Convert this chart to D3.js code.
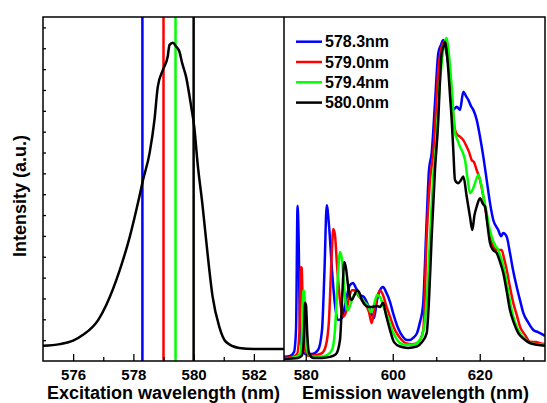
<!DOCTYPE html>
<html>
<head>
<meta charset="utf-8">
<script src="https://cdn.jsdelivr.net/npm/d3@7"></script>
<style>
  html, body { margin: 0; padding: 0; background: #fff; }
  svg { display: block; }
  text { font-family: "Liberation Sans", Arial, Helvetica, sans-serif; font-weight: bold; fill: #000; }
</style>
</head>
<body>
<svg id="chart" width="547" height="403"></svg>
<script>
// ---- Excitation spectrum (left panel) ----
const excWavelength = [575.0, 575.56, 576.0, 576.33, 576.83, 577.1, 577.55, 577.88, 578.2, 578.32, 578.54, 578.7, 578.81, 578.98, 579.14, 579.2, 579.31, 579.42, 579.53, 579.62, 579.75, 579.92, 580.02, 580.13, 580.3, 580.46, 580.63, 580.85, 581.07, 581.51, 582.0, 582.5, 583.0];
const excIntensity  = [0.044, 0.049, 0.059, 0.076, 0.119, 0.163, 0.265, 0.361, 0.478, 0.526, 0.605, 0.701, 0.797, 0.846, 0.885, 0.919, 0.925, 0.914, 0.899, 0.866, 0.826, 0.739, 0.681, 0.576, 0.449, 0.314, 0.187, 0.100, 0.056, 0.038, 0.035, 0.035, 0.035];

// Excitation wavelengths used for the emission spectra
const laserWavelengths = [578.3, 579.0, 579.4, 580.0];
const seriesLabels = ["578.3nm", "579.0nm", "579.4nm", "580.0nm"];
const seriesColors = ["#0000ff", "#ff0000", "#00ff00", "#000000"];

// ---- Emission spectra (right panel) ----
const emWl578_3 = [575.0, 576.38, 577.3, 577.76, 578.12, 578.33, 578.68, 579.14, 580.06, 581.44, 582.82, 583.74, 584.31, 584.82, 585.34, 586.03, 586.72, 587.48, 588.33, 589.25, 590.17, 590.86, 591.55, 592.47, 593.39, 594.31, 595.0, 595.69, 596.38, 597.07, 597.76, 598.45, 599.37, 600.06, 601.21, 602.36, 603.28, 603.97, 604.66, 605.57, 606.26, 606.95, 607.8, 608.33, 608.95, 609.71, 610.47, 611.09, 611.62, 612.24, 612.7, 613.16, 613.92, 614.7, 615.46, 616.22, 616.84, 617.37, 617.99, 618.52, 619.3, 620.06, 620.82, 621.6, 622.36, 623.11, 624.26, 624.89, 625.41, 626.2, 626.95, 627.64, 628.49, 629.25, 630.01, 631.09, 632.31, 633.39, 634.61, 635.0];
const emIn578_3 = [0.012, 0.015, 0.026, 0.09, 0.451, 0.38, 0.09, 0.032, 0.02, 0.02, 0.032, 0.09, 0.265, 0.453, 0.395, 0.265, 0.163, 0.119, 0.125, 0.177, 0.221, 0.227, 0.212, 0.192, 0.186, 0.163, 0.14, 0.125, 0.177, 0.206, 0.215, 0.201, 0.172, 0.14, 0.096, 0.07, 0.061, 0.061, 0.067, 0.081, 0.113, 0.16, 0.41, 0.555, 0.605, 0.75, 0.895, 0.919, 0.933, 0.904, 0.869, 0.817, 0.73, 0.739, 0.73, 0.783, 0.77, 0.759, 0.741, 0.73, 0.701, 0.652, 0.594, 0.526, 0.459, 0.41, 0.381, 0.363, 0.372, 0.361, 0.314, 0.265, 0.216, 0.177, 0.14, 0.113, 0.09, 0.084, 0.076, 0.073];

const emWl579_0 = [575.0, 576.84, 577.99, 578.56, 578.84, 579.07, 579.37, 579.83, 580.52, 582.13, 583.74, 584.66, 585.34, 585.92, 586.33, 586.72, 587.18, 587.87, 588.56, 589.25, 589.94, 590.63, 591.32, 592.01, 592.93, 593.85, 594.54, 595.16, 595.69, 596.38, 597.07, 597.76, 598.45, 599.37, 600.52, 601.67, 603.21, 604.43, 605.51, 606.26, 607.02, 607.8, 608.56, 609.32, 609.94, 610.47, 611.09, 611.62, 612.24, 612.82, 613.55, 614.31, 614.89, 615.46, 616.22, 617.0, 617.53, 618.15, 618.68, 619.3, 620.06, 620.82, 621.44, 621.97, 622.59, 623.11, 623.97, 625.05, 625.57, 626.2, 626.95, 627.71, 628.56, 629.25, 630.4, 631.55, 632.93, 633.85, 635.0];
const emIn579_0 = [0.009, 0.012, 0.02, 0.09, 0.273, 0.27, 0.119, 0.032, 0.015, 0.017, 0.023, 0.047, 0.119, 0.294, 0.384, 0.366, 0.279, 0.177, 0.129, 0.142, 0.183, 0.206, 0.206, 0.192, 0.177, 0.163, 0.142, 0.11, 0.142, 0.183, 0.206, 0.192, 0.163, 0.129, 0.09, 0.067, 0.051, 0.049, 0.052, 0.061, 0.09, 0.361, 0.526, 0.605, 0.73, 0.846, 0.904, 0.924, 0.927, 0.875, 0.768, 0.672, 0.657, 0.652, 0.642, 0.623, 0.608, 0.584, 0.578, 0.555, 0.526, 0.478, 0.43, 0.39, 0.358, 0.332, 0.323, 0.323, 0.299, 0.265, 0.215, 0.169, 0.131, 0.1, 0.076, 0.056, 0.055, 0.052, 0.049];

const emWl579_4 = [575.0, 577.53, 578.68, 579.14, 579.44, 579.67, 579.94, 580.4, 581.44, 583.28, 584.89, 586.03, 586.72, 587.41, 587.87, 588.33, 588.79, 589.25, 589.71, 590.4, 591.09, 591.78, 592.47, 593.39, 594.31, 595.0, 595.69, 596.38, 597.07, 597.99, 598.91, 599.83, 600.75, 601.67, 603.05, 604.66, 605.8, 606.72, 607.41, 608.1, 608.56, 609.25, 610.1, 610.63, 611.25, 611.78, 612.4, 612.93, 613.55, 614.31, 614.89, 615.46, 616.03, 616.61, 617.18, 617.76, 618.33, 618.91, 619.67, 620.45, 620.98, 621.6, 622.13, 622.75, 623.51, 624.26, 625.0, 625.8, 626.49, 627.34, 628.1, 629.25, 630.4, 631.55, 633.16, 635.0];
const emIn579_4 = [0.006, 0.012, 0.02, 0.076, 0.206, 0.201, 0.09, 0.026, 0.012, 0.012, 0.017, 0.032, 0.09, 0.25, 0.317, 0.294, 0.221, 0.163, 0.148, 0.169, 0.192, 0.198, 0.186, 0.172, 0.16, 0.142, 0.163, 0.192, 0.186, 0.154, 0.125, 0.09, 0.067, 0.052, 0.047, 0.047, 0.055, 0.073, 0.119, 0.235, 0.361, 0.526, 0.652, 0.773, 0.866, 0.919, 0.939, 0.89, 0.797, 0.663, 0.642, 0.623, 0.608, 0.584, 0.532, 0.488, 0.497, 0.517, 0.541, 0.507, 0.468, 0.43, 0.392, 0.361, 0.337, 0.323, 0.294, 0.256, 0.206, 0.148, 0.113, 0.081, 0.064, 0.052, 0.049, 0.047];

const emWl580_0 = [575.0, 578.22, 579.14, 579.6, 579.83, 580.06, 580.36, 580.75, 581.67, 583.74, 585.57, 586.95, 587.87, 588.45, 588.86, 589.25, 589.71, 590.17, 590.56, 591.09, 591.78, 592.24, 592.93, 593.62, 594.31, 595.23, 596.31, 597.07, 597.76, 598.45, 599.37, 600.29, 601.67, 603.51, 605.51, 606.72, 607.8, 608.33, 608.95, 609.71, 610.47, 610.86, 611.25, 611.67, 612.01, 612.36, 612.77, 613.16, 613.55, 613.92, 614.31, 615.07, 615.69, 616.22, 617.0, 617.76, 618.29, 618.79, 619.3, 620.06, 620.75, 621.21, 621.78, 622.36, 623.05, 623.9, 624.66, 625.41, 626.15, 626.95, 627.87, 628.86, 630.17, 631.55, 633.16, 635.0];
const emIn580_0 = [0.006, 0.009, 0.017, 0.076, 0.169, 0.163, 0.076, 0.023, 0.009, 0.009, 0.012, 0.02, 0.061, 0.206, 0.288, 0.27, 0.221, 0.186, 0.177, 0.189, 0.206, 0.201, 0.177, 0.163, 0.158, 0.157, 0.16, 0.157, 0.169, 0.134, 0.09, 0.055, 0.042, 0.038, 0.042, 0.055, 0.081, 0.177, 0.361, 0.555, 0.701, 0.817, 0.895, 0.913, 0.928, 0.904, 0.846, 0.773, 0.701, 0.613, 0.526, 0.517, 0.526, 0.536, 0.478, 0.419, 0.381, 0.424, 0.449, 0.473, 0.456, 0.449, 0.395, 0.343, 0.323, 0.314, 0.288, 0.256, 0.206, 0.148, 0.11, 0.081, 0.064, 0.052, 0.047, 0.044];

const emissionWl = [emWl578_3, emWl579_0, emWl579_4, emWl580_0];
const emissionIn = [emIn578_3, emIn579_0, emIn579_4, emIn580_0];

// Axis ticks
const excMajorTicks = [576, 578, 580, 582];
const excMinorTicks = [577, 579, 581];
const emMajorTicks = [580, 600, 620];
const emMinorTicks = [590, 610, 630];
const yTicks = d3.range(1, 17).map(k => k / 16.5);

// ---- Layout ----
const frame = { left: 43, right: 545, top: 17, bottom: 361, split: 284 };

const svg = d3.select("#chart");

const xExc = d3.scaleLinear().domain([575, 583]).range([frame.left, frame.split]);
const xEm = d3.scaleLinear().domain([575, 635]).range([frame.split, frame.right]);
const y = d3.scaleLinear().domain([0, 1]).range([frame.bottom, frame.top]);

const defs = svg.append("defs");
defs.append("clipPath").attr("id", "clipExc").append("rect")
  .attr("x", frame.left).attr("y", frame.top)
  .attr("width", frame.split - frame.left).attr("height", frame.bottom - frame.top);
defs.append("clipPath").attr("id", "clipEm").append("rect")
  .attr("x", frame.split).attr("y", frame.top)
  .attr("width", frame.right - frame.split).attr("height", frame.bottom - frame.top);

// ---- Left panel: excitation spectrum with laser lines ----
const gExc = svg.append("g").attr("clip-path", "url(#clipExc)");

gExc.selectAll("line.laser")
  .data(laserWavelengths)
  .join("line")
  .attr("class", "laser")
  .attr("x1", d => xExc(d)).attr("x2", d => xExc(d))
  .attr("y1", frame.top).attr("y2", frame.bottom)
  .attr("stroke", (d, i) => seriesColors[i])
  .attr("stroke-width", 2.5);

const excLine = d3.line()
  .x(d => xExc(d[0]))
  .y(d => y(d[1]))
  .curve(d3.curveMonotoneX);

gExc.append("path")
  .datum(d3.zip(excWavelength, excIntensity))
  .attr("d", excLine)
  .attr("fill", "none")
  .attr("stroke", "#000")
  .attr("stroke-width", 2.5)
  .attr("stroke-linejoin", "round");

// ---- Right panel: emission spectra ----
const gEm = svg.append("g").attr("clip-path", "url(#clipEm)");
const emLine = d3.line()
  .x(d => xEm(d[0]))
  .y(d => y(d[1]))
  .curve(d3.curveMonotoneX);

emissionWl.forEach((wl, i) => {
  gEm.append("path")
    .datum(d3.zip(wl, emissionIn[i]))
    .attr("d", emLine)
    .attr("fill", "none")
    .attr("stroke", seriesColors[i])
    .attr("stroke-width", 2.5)
    .attr("stroke-linejoin", "round");
});

// ---- Axes ----
function styleAxis(g) {
  g.select(".domain").remove();
  g.selectAll(".tick line").attr("stroke", "#000").attr("stroke-width", 1.3);
  g.selectAll(".tick text").style("font-size", "15px").attr("fill", "#000");
}

svg.append("g")
  .attr("transform", `translate(0,${frame.bottom})`)
  .call(d3.axisBottom(xExc).tickValues(excMajorTicks).tickSize(-7).tickPadding(8).tickFormat(d3.format("d")))
  .call(styleAxis);
svg.append("g")
  .attr("transform", `translate(0,${frame.bottom})`)
  .call(d3.axisBottom(xExc).tickValues(excMinorTicks).tickSize(-4).tickFormat(""))
  .call(styleAxis);

svg.append("g")
  .attr("transform", `translate(0,${frame.bottom})`)
  .call(d3.axisBottom(xEm).tickValues(emMajorTicks).tickSize(-7).tickPadding(8).tickFormat(d3.format("d")))
  .call(styleAxis);
svg.append("g")
  .attr("transform", `translate(0,${frame.bottom})`)
  .call(d3.axisBottom(xEm).tickValues(emMinorTicks).tickSize(-4).tickFormat(""))
  .call(styleAxis);

svg.append("g")
  .attr("transform", `translate(${frame.left},0)`)
  .call(d3.axisLeft(y).tickValues(yTicks).tickSize(-3).tickFormat(""))
  .call(styleAxis);

// Frame and panel divider
svg.append("rect")
  .attr("x", frame.left).attr("y", frame.top)
  .attr("width", frame.right - frame.left).attr("height", frame.bottom - frame.top)
  .attr("fill", "none").attr("stroke", "#000").attr("stroke-width", 1.5);
svg.append("line")
  .attr("x1", frame.split).attr("x2", frame.split)
  .attr("y1", frame.top).attr("y2", frame.bottom)
  .attr("stroke", "#000").attr("stroke-width", 1.5);

// ---- Axis titles ----
svg.append("text")
  .attr("x", (frame.left + frame.split) / 2).attr("y", 399)
  .attr("text-anchor", "middle").style("font-size", "18px")
  .text("Excitation wavelength (nm)");
svg.append("text")
  .attr("x", (frame.split + frame.right) / 2 + 1).attr("y", 399)
  .attr("text-anchor", "middle").style("font-size", "18px")
  .text("Emission wavelength (nm)");
svg.append("text")
  .attr("transform", "translate(26,196) rotate(-90)")
  .attr("text-anchor", "middle").style("font-size", "18px")
  .text("Intensity (a.u.)");

// ---- Legend ----
const legend = svg.append("g");
seriesLabels.forEach((label, i) => {
  const cy = 41.7 + i * 20.3;
  legend.append("line")
    .attr("x1", 296).attr("x2", 322)
    .attr("y1", cy).attr("y2", cy)
    .attr("stroke", seriesColors[i]).attr("stroke-width", 2.5);
  legend.append("text")
    .attr("x", 325).attr("y", cy + 5.6)
    .style("font-size", "16px")
    .text(label);
});
</script>
</body>
</html>
